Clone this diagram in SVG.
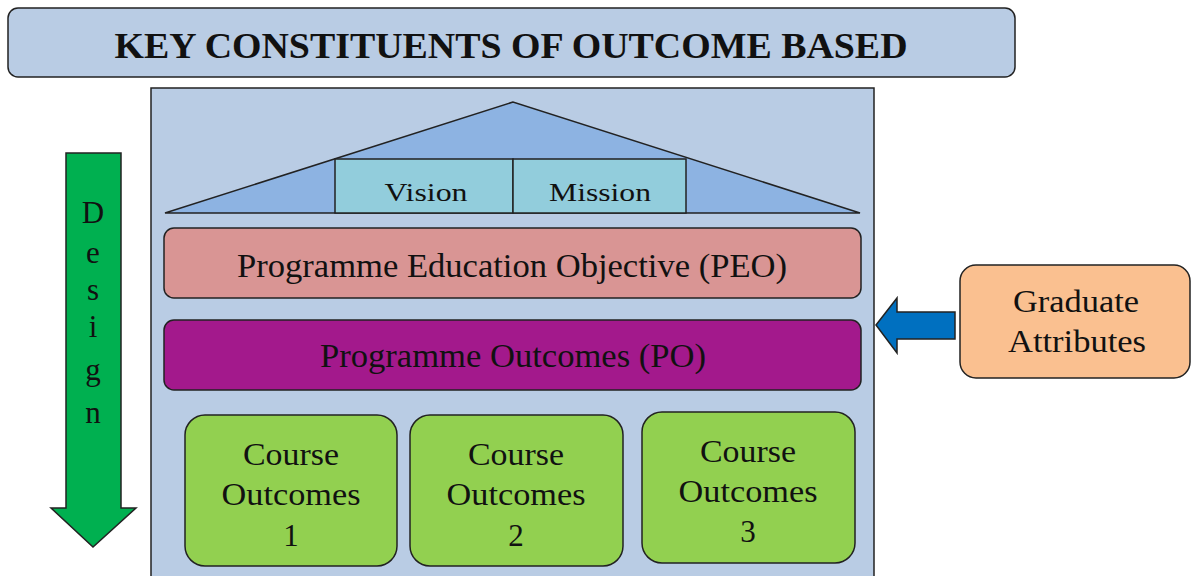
<svg xmlns="http://www.w3.org/2000/svg" width="1191" height="576" viewBox="0 0 1191 576">
<style>
text{font-family:'Liberation Serif','DejaVu Serif',serif;fill:#111;text-anchor:middle}
.s{stroke:#222;stroke-width:1.5}
.t30{font-size:31px}
</style>
<rect width="1191" height="576" fill="#fff"/>
<g id="title">
<rect class="s" x="8" y="8" width="1007" height="69" rx="10" fill="#b9cce4"/>
<text x="511" y="58" textLength="793" lengthAdjust="spacingAndGlyphs" style="font-size:35px;font-weight:bold">KEY CONSTITUENTS OF OUTCOME BASED</text>
</g>
<g id="panel">
<rect class="s" x="151" y="88" width="723" height="500" fill="#b9cce4"/>
</g>
<g id="roof">
<polygon class="s" points="513,102 165,213 860,213" fill="#8db3e2"/>
</g>
<g id="vision">
<rect class="s" x="335" y="159" width="178" height="54" fill="#92cddc"/>
<text x="426" y="201" textLength="83" lengthAdjust="spacingAndGlyphs" style="font-size:26px">Vision</text>
</g>
<g id="mission">
<rect class="s" x="513" y="159" width="173" height="54" fill="#92cddc"/>
<text x="600" y="201" textLength="102" lengthAdjust="spacingAndGlyphs" style="font-size:26px">Mission</text>
</g>
<g id="peo">
<rect class="s" x="164" y="228" width="697" height="70" rx="10" fill="#d99594"/>
<text class="t30" x="512" y="277" textLength="550" lengthAdjust="spacingAndGlyphs" style="font-size:33px">Programme Education Objective (PEO)</text>
</g>
<g id="po">
<rect class="s" x="164" y="320" width="697" height="70" rx="10" fill="#a3198c"/>
<text class="t30" x="513" y="367" textLength="386" lengthAdjust="spacingAndGlyphs" style="font-size:33px">Programme Outcomes (PO)</text>
</g>
<g id="co1">
<rect class="s" x="185" y="415" width="212" height="151" rx="20" fill="#92d050"/>
<text class="t30" x="291" y="465" textLength="96" lengthAdjust="spacingAndGlyphs">Course</text>
<text class="t30" x="291" y="505" textLength="139" lengthAdjust="spacingAndGlyphs">Outcomes</text>
<text class="t30" x="291" y="546">1</text>
</g>
<g id="co2">
<rect class="s" x="410" y="415" width="213" height="151" rx="20" fill="#92d050"/>
<text class="t30" x="516" y="465" textLength="96" lengthAdjust="spacingAndGlyphs">Course</text>
<text class="t30" x="516" y="505" textLength="139" lengthAdjust="spacingAndGlyphs">Outcomes</text>
<text class="t30" x="516" y="546">2</text>
</g>
<g id="co3">
<rect class="s" x="642" y="412" width="213" height="151" rx="20" fill="#92d050"/>
<text class="t30" x="748" y="462" textLength="96" lengthAdjust="spacingAndGlyphs">Course</text>
<text class="t30" x="748" y="502" textLength="139" lengthAdjust="spacingAndGlyphs">Outcomes</text>
<text class="t30" x="748" y="542">3</text>
</g>
<g id="graduate">
<rect class="s" x="960" y="265" width="230" height="113" rx="16" fill="#fac090"/>
<text class="t30" x="1076" y="312" textLength="126" lengthAdjust="spacingAndGlyphs">Graduate</text>
<text class="t30" x="1077" y="352" textLength="138" lengthAdjust="spacingAndGlyphs">Attributes</text>
</g>
<g id="design">
<polygon class="s" points="66,153 121,153 121,508 136,508 93,547 51,508 66,508" fill="#00b050"/>
<text class="t30" x="93" y="223">D</text>
<text class="t30" x="93" y="263">e</text>
<text class="t30" x="93" y="300">s</text>
<text class="t30" x="93" y="337">i</text>
<text class="t30" x="93" y="380">g</text>
<text class="t30" x="93" y="423">n</text>
</g>
<g id="connectors">
<polygon class="s" points="876,325 897,298 897,312 955,312 955,339 897,339 897,353" fill="#0070c0"/>
</g>
</svg>
